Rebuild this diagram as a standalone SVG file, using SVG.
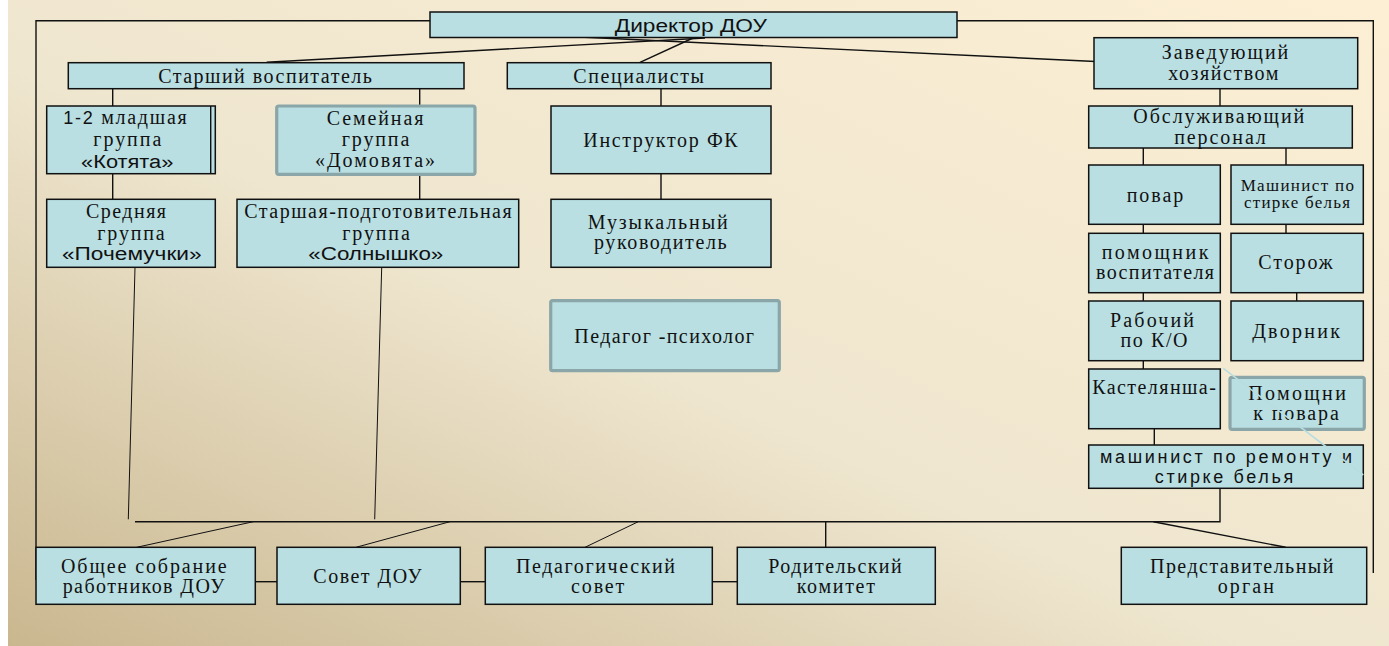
<svg xmlns="http://www.w3.org/2000/svg" width="1389" height="646" viewBox="0 0 1389 646">
<defs>
<linearGradient id="bg" x1="0" y1="1" x2="1" y2="0">
<stop offset="0" stop-color="#c9b78f"/>
<stop offset="0.45" stop-color="#efe6cf"/>
<stop offset="1" stop-color="#fcefd4"/>
</linearGradient>
<style>
.b{fill:#b9dfe2;stroke:#111;stroke-width:1.5}
.t{fill:#b9dfe2;stroke:#8aa6a8;stroke-width:3.2}
.c{stroke:#111;stroke-width:1.4;fill:none}
.s{stroke:#111;stroke-width:1;fill:none}
text{font-family:"Liberation Serif","Times New Roman",serif;font-size:20px;fill:#111;text-anchor:middle}
text.a{font-family:"Liberation Sans",Arial,sans-serif;font-size:18px}
tspan.a{font-family:"Liberation Sans",Arial,sans-serif;font-size:18px}
text.m{font-size:17px}
</style>
</defs>
<rect x="0" y="0" width="1389" height="646" fill="#ffffff"/>
<rect x="8" y="0" width="1381" height="646" fill="url(#bg)"/>

<g id="connectors">
<polyline class="c" points="430,20.7 36,20.7 36,580"/>
<polyline class="c" points="957,20.7 1373.3,20.7 1373.3,573"/>
<line class="c" x1="705" y1="38" x2="266.7" y2="62.3"/>
<line class="c" x1="693" y1="38" x2="640" y2="62.3"/>
<line class="c" x1="585" y1="37.3" x2="1122" y2="62.7"/>
<line class="c" x1="112.7" y1="88.7" x2="112.7" y2="106"/>
<line class="c" x1="419.7" y1="88.7" x2="419.7" y2="106"/>
<line class="c" x1="112.7" y1="173.7" x2="112.7" y2="199.3"/>
<line class="c" x1="419.7" y1="174.3" x2="419.7" y2="199.3"/>
<line class="c" x1="661" y1="88.7" x2="661" y2="106"/>
<line class="c" x1="661" y1="173.7" x2="661" y2="199.3"/>
<line class="c" x1="1220" y1="88.7" x2="1220" y2="106"/>
<line class="c" x1="1143.3" y1="148" x2="1143.3" y2="165"/>
<line class="c" x1="1286" y1="148" x2="1286" y2="165"/>
<line class="c" x1="1143.3" y1="224.3" x2="1143.3" y2="233.3"/>
<line class="c" x1="1286" y1="224.3" x2="1286" y2="233.3"/>
<line class="c" x1="1143.3" y1="292.7" x2="1143.3" y2="301"/>
<line class="c" x1="1296.7" y1="292.7" x2="1296.7" y2="301"/>
<line class="c" x1="1143.3" y1="360.7" x2="1143.3" y2="369"/>
<line class="c" x1="1154.3" y1="428.7" x2="1154.3" y2="445"/>
<line class="s" x1="135" y1="267.3" x2="128.3" y2="519.3"/>
<line class="s" x1="381.7" y1="267.3" x2="374.7" y2="519.3"/>
<polyline class="c" points="135,521.7 1220,521.7 1220,488.3"/>
<line class="s" x1="253.3" y1="521.7" x2="136.7" y2="547.3"/>
<line class="s" x1="450" y1="521.7" x2="356" y2="547.3"/>
<line class="s" x1="638.3" y1="521.7" x2="585" y2="547.3"/>
<line class="c" x1="825.7" y1="521.7" x2="825.7" y2="547.3"/>
<line class="c" x1="1153.3" y1="521.7" x2="1285.7" y2="547.3"/>
<line class="c" x1="255.3" y1="581.7" x2="277" y2="581.7"/>
<line class="c" x1="460.3" y1="581.7" x2="485.3" y2="581.7"/>
<line class="c" x1="712.3" y1="581.7" x2="737.3" y2="581.7"/>
</g>

<g id="director">
<rect class="b" x="430" y="12" width="527" height="25.5"/>
<text class="a" x="690.8" y="31.7" textLength="152" lengthAdjust="spacingAndGlyphs">Директор  ДОУ</text>
</g>
<g id="senior">
<rect class="b" x="68.3" y="62.7" width="395.7" height="26"/>
<text x="265" y="82.7" textLength="213.7" lengthAdjust="spacing">Старший воспитатель</text>
</g>
<g id="specialists">
<rect class="b" x="507.3" y="62.7" width="263.7" height="26"/>
<text x="638.7" y="82.7" textLength="130.7" lengthAdjust="spacing">Специалисты</text>
</g>
<g id="group12">
<rect class="b" x="46.7" y="106" width="168.6" height="67.7"/>
<line class="c" x1="210.7" y1="106" x2="210.7" y2="173.7"/>
<text x="125" y="124.3" textLength="123.4" lengthAdjust="spacing"><tspan class="a">1-2</tspan> младшая</text>
<text x="127.3" y="146" textLength="68" lengthAdjust="spacing">группа</text>
<text class="a" x="127.2" y="167.7" textLength="92.3" lengthAdjust="spacingAndGlyphs">«Котята»</text>
</g>
<g id="family">
<rect class="t" x="276.7" y="106" width="198.3" height="68.3" rx="2"/>
<text x="375" y="125" textLength="96.7" lengthAdjust="spacing">Семейная</text>
<text x="375.5" y="146" textLength="67.6" lengthAdjust="spacing">группа</text>
<text x="375" y="166.7" textLength="120" lengthAdjust="spacing">«Домовята»</text>
</g>
<g id="middle">
<rect class="b" x="46.7" y="199.3" width="168.6" height="68"/>
<text x="126" y="218.3" textLength="80" lengthAdjust="spacing">Средняя</text>
<text x="131" y="240" textLength="67.4" lengthAdjust="spacing">группа</text>
<text class="a" x="131.8" y="260" textLength="139.7" lengthAdjust="spacingAndGlyphs">«Почемучки»</text>
</g>
<g id="senior-group">
<rect class="b" x="237" y="199.3" width="281.7" height="68"/>
<text x="378" y="218.3" textLength="267.4" lengthAdjust="spacing">Старшая-подготовительная</text>
<text x="376" y="240" textLength="67.7" lengthAdjust="spacing">группа</text>
<text class="a" x="375.8" y="260" textLength="135" lengthAdjust="spacingAndGlyphs">«Солнышко»</text>
</g>
<g id="pe">
<rect class="b" x="551" y="106" width="220" height="67.7"/>
<text x="660.5" y="146.7" textLength="154.4" lengthAdjust="spacing">Инструктор ФК</text>
</g>
<g id="music">
<rect class="b" x="551" y="199.3" width="220" height="68"/>
<text x="657.7" y="229.3" textLength="140" lengthAdjust="spacing">Музыкальный</text>
<text x="660.3" y="249.3" textLength="132.7" lengthAdjust="spacing">руководитель</text>
</g>
<g id="psych">
<rect class="t" x="550.7" y="300.7" width="228.6" height="70" rx="2"/>
<text x="664.2" y="343.3" textLength="179.7" lengthAdjust="spacing">Педагог -психолог</text>
</g>
<g id="manager">
<rect class="b" x="1094" y="37.7" width="263.7" height="51"/>
<text x="1225" y="59.3" textLength="126.6" lengthAdjust="spacing">Заведующий</text>
<text x="1223.3" y="80" textLength="110" lengthAdjust="spacing">хозяйством</text>
</g>
<g id="staff">
<rect class="b" x="1088.7" y="106" width="263.6" height="42"/>
<text x="1218.8" y="123.3" textLength="171" lengthAdjust="spacing">Обслуживающий</text>
<text x="1220" y="144" textLength="91.7" lengthAdjust="spacing">персонал</text>
</g>
<g id="cook">
<rect class="b" x="1088.7" y="165" width="131.6" height="59.3"/>
<text x="1155" y="201.7" textLength="56.7" lengthAdjust="spacing">повар</text>
</g>
<g id="laundry">
<rect class="b" x="1231" y="165" width="132.3" height="59.3"/>
<text class="m" x="1297.3" y="190.7" textLength="113.3" lengthAdjust="spacing">Машинист по</text>
<text class="m" x="1297" y="208.3" textLength="106" lengthAdjust="spacing">стирке белья</text>
</g>
<g id="assistant">
<rect class="b" x="1088.7" y="233.3" width="131.6" height="59.4"/>
<text x="1155" y="259.3" textLength="106.7" lengthAdjust="spacing">помощник</text>
<text x="1155" y="279.3" textLength="118" lengthAdjust="spacing">воспитателя</text>
</g>
<g id="guard">
<rect class="b" x="1231" y="233.3" width="132.3" height="59.4"/>
<text x="1295.5" y="269.3" textLength="74.3" lengthAdjust="spacing">Сторож</text>
</g>
<g id="worker">
<rect class="b" x="1088.7" y="301" width="131.6" height="59.7"/>
<text x="1152" y="326.7" textLength="84" lengthAdjust="spacing">Рабочий</text>
<text x="1154" y="347.3" textLength="67" lengthAdjust="spacing">по К/О</text>
</g>
<g id="janitor">
<rect class="b" x="1231" y="301" width="132.3" height="59.7"/>
<text x="1296" y="338.3" textLength="87.7" lengthAdjust="spacing">Дворник</text>
</g>
<g id="linen">
<rect class="b" x="1088.7" y="369" width="131.6" height="59.7"/>
<text x="1154" y="394.3" textLength="123.7" lengthAdjust="spacing">Кастелянша-</text>
</g>
<g id="cook-assistant">
<rect class="t" x="1230" y="377.3" width="134.3" height="52" rx="2"/>
<text x="1297" y="400" textLength="97.7" lengthAdjust="spacing">Помощни</text>
<text x="1296" y="420" textLength="85.7" lengthAdjust="spacing">к повара</text>
</g>
<g id="repair">
<rect class="b" x="1088.7" y="445" width="274.6" height="43.3"/>
<text class="a" x="1226" y="463.3" textLength="252" lengthAdjust="spacing">машинист по ремонту  и</text>
<text class="a" x="1224" y="483.3" textLength="138.3" lengthAdjust="spacing">стирке  белья</text>
</g>
<line x1="1223.3" y1="368.3" x2="1363.3" y2="475" stroke="#b7dde0" stroke-width="1.6"/>
<g id="general">
<rect class="b" x="36" y="547.3" width="219.3" height="57"/>
<text x="143.8" y="573.3" textLength="165.7" lengthAdjust="spacing">Общее собрание</text>
<text x="143.5" y="593.3" textLength="161.6" lengthAdjust="spacing">работников ДОУ</text>
</g>
<g id="council">
<rect class="b" x="277" y="547.3" width="183.3" height="57"/>
<text x="367.5" y="583.3" textLength="108.4" lengthAdjust="spacing">Совет ДОУ</text>
</g>
<g id="ped-council">
<rect class="b" x="485.3" y="547.3" width="227" height="57"/>
<text x="595.5" y="573.3" textLength="159" lengthAdjust="spacing">Педагогический</text>
<text x="597.7" y="593.3" textLength="53.3" lengthAdjust="spacing">совет</text>
</g>
<g id="parents">
<rect class="b" x="737.3" y="547.3" width="198" height="57"/>
<text x="835" y="573.3" textLength="133.4" lengthAdjust="spacing">Родительский</text>
<text x="835.8" y="593.3" textLength="78.3" lengthAdjust="spacing">комитет</text>
</g>
<g id="representative">
<rect class="b" x="1121.3" y="547.3" width="245.4" height="57"/>
<text x="1241.7" y="573.3" textLength="183.3" lengthAdjust="spacing">Представительный</text>
<text x="1245.8" y="593.3" textLength="56.3" lengthAdjust="spacing">орган</text>
</g>
</svg>
